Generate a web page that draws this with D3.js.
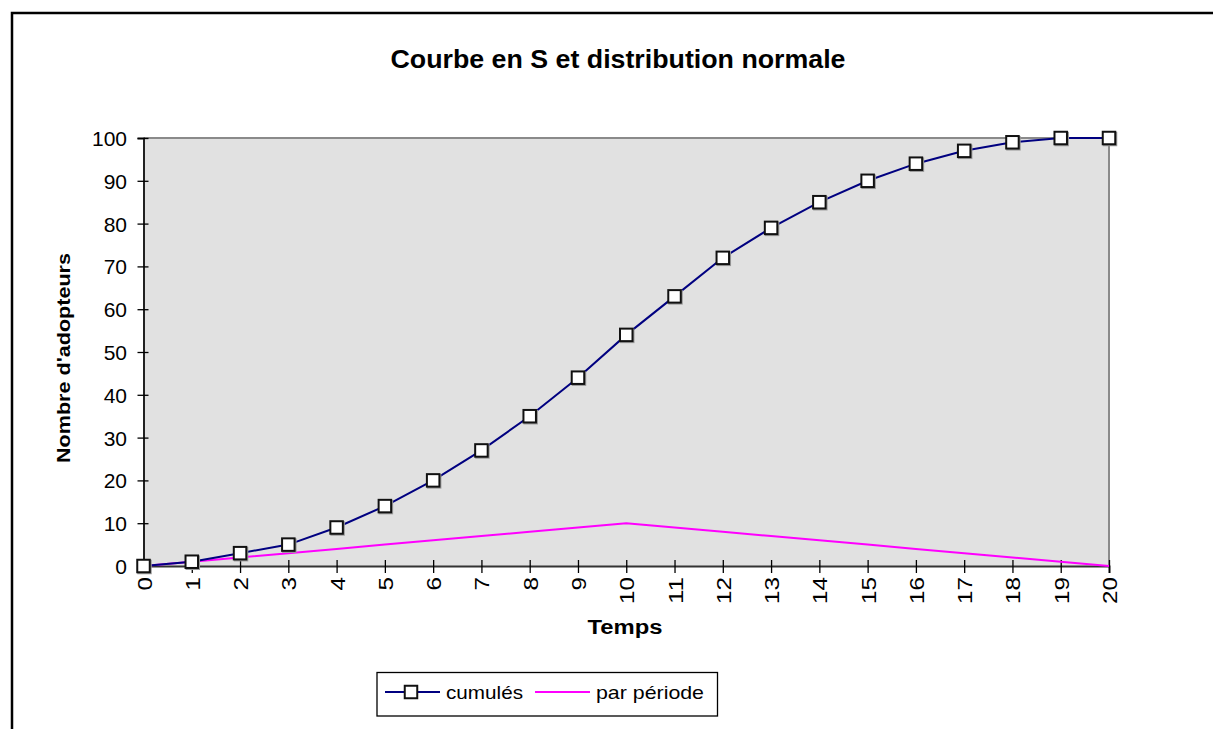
<!DOCTYPE html>
<html>
<head>
<meta charset="utf-8">
<script src="https://cdn.jsdelivr.net/npm/d3@7"></script>
<style>
body { margin:0; background:#fff; }
text { font-family: "Liberation Sans", Arial, sans-serif; }
</style>
</head>
<body>
<svg id="chart" width="1213" height="729"></svg>
<script>
// data
var periods = d3.range(0, 21);
var cumules = [0, 1, 3, 5, 9, 14, 20, 27, 35, 44, 54, 63, 72, 79, 85, 90, 94, 97, 99, 100, 100];
var parPeriode = [0, 1, 2, 3, 4, 5, 6, 7, 8, 9, 10, 9, 8, 7, 6, 5, 4, 3, 2, 1, 0];
var yTicks = [0, 10, 20, 30, 40, 50, 60, 70, 80, 90, 100];
var seriesNames = ["cumulés", "par période"];

var svg = d3.select("#chart");

// plot box (window.top is reserved, so no plain "top" here)
var plotL = 143.5, plotR = 1109, plotT = 138, plotB = 566;
var x = d3.scaleLinear().domain([0, 20]).range([plotL, plotR]);
var y = d3.scaleLinear().domain([0, 100]).range([plotB, plotT]);

// outer frame (only top and left visible)
svg.append("rect")
    .attr("x", 12).attr("y", 13)
    .attr("width", 1300).attr("height", 900)
    .attr("fill", "#fff")
    .attr("stroke", "#000")
    .attr("stroke-width", 2.5);

// title
svg.append("text")
    .attr("x", 618).attr("y", 68)
    .attr("text-anchor", "middle")
    .attr("font-size", 25)
    .attr("font-weight", "bold")
    .attr("textLength", 455)
    .attr("lengthAdjust", "spacingAndGlyphs")
    .text("Courbe en S et distribution normale");

// plot area
svg.append("rect")
    .attr("x", plotL).attr("y", plotT)
    .attr("width", plotR - plotL).attr("height", plotB - plotT)
    .attr("fill", "#e1e1e1");
svg.append("path")
    .attr("d", "M" + plotL + "," + plotT + "H" + plotR + "V" + plotB)
    .attr("fill", "none")
    .attr("stroke", "#8a8a8a")
    .attr("stroke-width", 2);

// y axis
var gy = svg.append("g")
    .attr("transform", "translate(" + plotL + ",0)")
    .call(d3.axisLeft(y).tickValues(yTicks).tickSize(6).tickPadding(10));
gy.select(".domain").attr("stroke", "#222").attr("stroke-width", 2);
gy.selectAll(".tick line").attr("x1", 5).attr("stroke", "#000").attr("stroke-width", 1.3);
gy.selectAll(".tick text")
    .attr("font-size", 21)
    .attr("font-family", "Liberation Sans, Arial, sans-serif")
    .attr("fill", "#000")
    .attr("x", -16.5)
    .attr("dy", "0.36em");

// x axis
var gx = svg.append("g")
    .attr("transform", "translate(0," + plotB + ")")
    .call(d3.axisBottom(x).tickValues(periods).tickSize(7).tickFormat(d3.format("d")));
gx.select(".domain").attr("stroke", "#333").attr("stroke-width", 2);
gx.selectAll(".tick line").attr("y1", -6).attr("stroke", "#000").attr("stroke-width", 1.3);
gx.selectAll(".tick text")
    .attr("font-size", 20.5)
    .attr("font-family", "Liberation Sans, Arial, sans-serif")
    .attr("fill", "#000")
    .attr("text-anchor", "end")
    .attr("transform", "translate(7.5,11) rotate(-90)")
    .attr("x", 0).attr("y", 0).attr("dy", 0)
    .attr("textLength", function(d){ return String(d).length * 13.5; })
    .attr("lengthAdjust", "spacingAndGlyphs");

// axis titles
svg.append("text")
    .attr("x", 625).attr("y", 634)
    .attr("text-anchor", "middle")
    .attr("font-size", 19.5)
    .attr("font-weight", "bold")
    .attr("textLength", 75)
    .attr("lengthAdjust", "spacingAndGlyphs")
    .text("Temps");

svg.append("text")
    .attr("transform", "translate(70,358) rotate(-90)")
    .attr("text-anchor", "middle")
    .attr("font-size", 18)
    .attr("font-weight", "bold")
    .attr("textLength", 210)
    .attr("lengthAdjust", "spacingAndGlyphs")
    .text("Nombre d'adopteurs");

// lines
var line = d3.line()
    .x(function(d, i){ return x(periods[i]); })
    .y(function(d){ return y(d); });

svg.append("path")
    .datum(parPeriode)
    .attr("d", line)
    .attr("fill", "none")
    .attr("stroke", "#ff00ff")
    .attr("stroke-width", 2);

svg.append("path")
    .datum(cumules)
    .attr("d", line)
    .attr("fill", "none")
    .attr("stroke", "#000080")
    .attr("stroke-width", 2);

var ms = 12.5;
svg.append("g").selectAll("rect")
    .data(cumules)
    .enter()
    .append("rect")
        .attr("x", function(d, i){ return x(periods[i]) - ms / 2 + 1; })
        .attr("y", function(d){ return y(d) - ms / 2 + 1; })
        .attr("width", ms).attr("height", ms)
        .attr("fill", "none")
        .attr("stroke", "#999")
        .attr("stroke-width", 2);
svg.append("g").selectAll("rect")
    .data(cumules)
    .enter()
    .append("rect")
        .attr("x", function(d, i){ return x(periods[i]) - ms / 2; })
        .attr("y", function(d){ return y(d) - ms / 2; })
        .attr("width", ms).attr("height", ms)
        .attr("fill", "#fff")
        .attr("stroke", "#111")
        .attr("stroke-width", 2);

// legend
var lg = svg.append("g");
lg.append("rect")
    .attr("x", 377).attr("y", 672.5)
    .attr("width", 340.5).attr("height", 43.5)
    .attr("fill", "#fff")
    .attr("stroke", "#000")
    .attr("stroke-width", 1.3);
lg.append("line")
    .attr("x1", 385).attr("x2", 440).attr("y1", 692).attr("y2", 692)
    .attr("stroke", "#000080").attr("stroke-width", 2);
lg.append("rect")
    .attr("x", 411 - ms / 2).attr("y", 692 - ms / 2)
    .attr("width", ms).attr("height", ms)
    .attr("fill", "#fff").attr("stroke", "#111").attr("stroke-width", 2);
lg.append("text")
    .attr("x", 446).attr("y", 699)
    .attr("font-size", 19)
    .attr("textLength", 77)
    .attr("lengthAdjust", "spacingAndGlyphs")
    .text(seriesNames[0]);
lg.append("line")
    .attr("x1", 535).attr("x2", 590).attr("y1", 692).attr("y2", 692)
    .attr("stroke", "#ff00ff").attr("stroke-width", 2);
lg.append("text")
    .attr("x", 596).attr("y", 699)
    .attr("font-size", 19)
    .attr("textLength", 108)
    .attr("lengthAdjust", "spacingAndGlyphs")
    .text(seriesNames[1]);
</script>
</body>
</html>
